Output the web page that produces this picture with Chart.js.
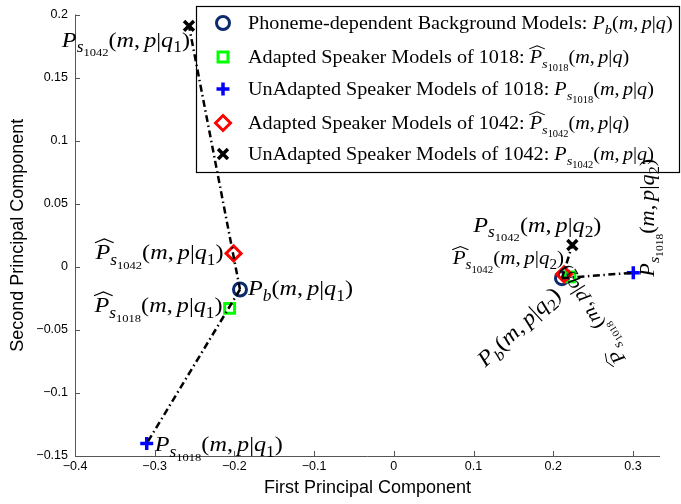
<!DOCTYPE html>
<html><head><meta charset="utf-8">
<script src="https://cdn.jsdelivr.net/npm/chart.js@4.4.0/dist/chart.umd.min.js"></script>
<style>html,body{margin:0;padding:0;background:#fff}#wrap{width:681px;height:504px}</style>
</head><body><div id="wrap"><canvas id="c" width="681" height="504"></canvas></div>
<script>
// ---- data ----
const groups = ['q1', 'q2'];
const bgX = [-0.193, 0.211],   bgY = [-0.018, -0.009];     // Phoneme-dependent background models
const ad1018X = [-0.206, 0.221], ad1018Y = [-0.033, -0.008]; // adapted 1018
const un1018X = [-0.310, 0.3005], un1018Y = [-0.140, -0.0047]; // unadapted 1018
const ad1042X = [-0.201, 0.2136], ad1042Y = [0.0106, -0.006]; // adapted 1042
const un1042X = [-0.257, 0.224], un1042Y = [0.191, 0.0173];  // unadapted 1042
const xTicks = [-0.4, -0.3, -0.2, -0.1, 0, 0.1, 0.2, 0.3];
const yTicks = [-0.15, -0.1, -0.05, 0, 0.05, 0.1, 0.15, 0.2];
const legendLabels = [
  'Phoneme-dependent Background Models: $P_{b}(m,p|q)$',
  'Adapted Speaker Models of 1018: $\\hat{P}_{s_{1018}}(m,p|q)$',
  'UnAdapted Speaker Models of 1018: $P_{s_{1018}}(m,p|q)$',
  'Adapted Speaker Models of 1042: $\\hat{P}_{s_{1042}}(m,p|q)$',
  'UnAdapted Speaker Models of 1042: $P_{s_{1042}}(m,p|q)$'
];
const xTitle = 'First Principal Component';
const yTitle = 'Second Principal Component';

// ---- styles ----
const sets = {
  bg:     {x: bgX, y: bgY, style: 'circle', color: '#0c2a6c', r: 6.5, w: 3},
  ad1018: {x: ad1018X, y: ad1018Y, style: 'rect', color: '#00ff00', r: 7, w: 3},
  un1018: {x: un1018X, y: un1018Y, style: 'cross', color: '#0000ff', r: 6.5, w: 3.5},
  ad1042: {x: ad1042X, y: ad1042Y, style: 'rectRot', color: '#ff0000', r: 7.5, w: 3},
  un1042: {x: un1042X, y: un1042Y, style: 'crossRot', color: '#000000', r: 7, w: 3.5}
};
const setOrder = ['bg', 'ad1018', 'un1018', 'ad1042', 'un1042'];

const annotations = [
  {set: 'un1042', g: 0, text: '$P_{s_{1042}}(m,p|q_{1})$', dx: 1, dy: 21, align: 'right'},
  {set: 'ad1042', g: 0, text: '$\\hat{P}_{s_{1042}}(m,p|q_{1})$', dx: -10, dy: 6, align: 'right'},
  {set: 'bg', g: 0, text: '$P_{b}(m,p|q_{1})$', dx: 8, dy: 6, align: 'left'},
  {set: 'ad1018', g: 0, text: '$\\hat{P}_{s_{1018}}(m,p|q_{1})$', dx: -7, dy: 4, align: 'right'},
  {set: 'un1018', g: 0, text: '$P_{s_{1018}}(m,p|q_{1})$', dx: 8, dy: 8, align: 'left'},
  {set: 'un1042', g: 1, text: '$P_{s_{1042}}(m,p|q_{2})$', dx: -35, dy: -13, align: 'center'},
  {set: 'ad1042', g: 1, text: '$\\hat{P}_{s_{1042}}(m,p|q_{2})$', dx: 0, dy: -10, align: 'right', scale: 0.87},
  {set: 'bg', g: 1, text: '$P_{b}(m,p|q_{2})$', dx: 0, dy: 18, align: 'right', rot: -43},
  {set: 'ad1018', g: 1, text: '$\\hat{P}_{s_{1018}}(m,p|q_{2})$', dx: 56, dy: 82, align: 'left', rot: -122, scale: 0.87},
  {set: 'un1018', g: 1, text: '$P_{s_{1018}}(m,p|q_{2})$', dx: 21, dy: 4, align: 'left', rot: -90, scale: 0.92}
];

// ---- rich text (tiny TeX subset) ----
function parseMath(s) {
  let i = 0;
  function isL(c) { return /[a-zA-Z]/.test(c); }
  function arg() {
    if (s[i] === '{') { i++; return group(); }
    const c = s[i++]; return [{t: 'ch', ch: c, it: isL(c)}];
  }
  function group() {
    const out = [];
    while (i < s.length) {
      const c = s[i];
      if (c === '}') { i++; return out; }
      if (c === '\\') {
        let j = i + 1; while (j < s.length && isL(s[j])) j++;
        const cmd = s.slice(i + 1, j); i = j;
        if (cmd === 'hat') out.push({t: 'hat', c: arg()});
        continue;
      }
      if (c === '_') { i++; out.push({t: 'sub', c: arg()}); continue; }
      if (c === '{') { i++; out.push({t: 'grp', c: group()}); continue; }
      if (c === ' ') { i++; continue; }
      i++;
      out.push({t: 'ch', ch: c, it: isL(c)});
      if (c === ',') out.push({t: 'sp', w: 0.17});
    }
    return out;
  }
  return group();
}
function parseRich(str) {
  const out = [];
  str.split('$').forEach((p, k) => {
    if (k % 2 === 0) { if (p) out.push({t: 'txt', s: p}); }
    else out.push(...parseMath(p));
  });
  return out;
}
const SERIF = '"Liberation Serif", "Times New Roman", serif';
function rend(ctx, nodes, x, y, size, draw) {
  let w = 0;
  for (const n of nodes) {
    if (n.t === 'ch' || n.t === 'txt') {
      const s = n.t === 'txt' ? n.s : n.ch;
      ctx.font = (n.it ? 'italic ' : '') + size + 'px ' + SERIF;
      const m = ctx.measureText(s).width;
      if (draw) ctx.fillText(s, x + w, y);
      w += m;
    } else if (n.t === 'sp') {
      w += n.w * size;
    } else if (n.t === 'grp') {
      w += rend(ctx, n.c, x + w, y, size, draw);
    } else if (n.t === 'sub') {
      w += rend(ctx, n.c, x + w, y + size * 0.25, size * 0.72, draw);
    } else if (n.t === 'hat') {
      const cw = rend(ctx, n.c, x + w, y, size, draw);
      if (draw) {
        const x0 = x + w - size * 0.02, x1 = x + w + cw + size * 0.14;
        const yb = y - size * 0.76, ya = y - size * 0.93;
        ctx.beginPath();
        ctx.moveTo(x0, yb); ctx.lineTo((x0 + x1) / 2, ya); ctx.lineTo(x1, yb);
        ctx.lineWidth = size * 0.05; ctx.strokeStyle = '#000'; ctx.stroke();
      }
      w += cw;
    }
  }
  return w;
}
function drawRich(ctx, str, x, y, o) {
  const size = o.size, sx = o.sx || 1;
  ctx.save();
  ctx.translate(x, y);
  ctx.rotate((o.rot || 0) * Math.PI / 180);
  ctx.scale(sx, 1);
  ctx.textAlign = 'left'; ctx.textBaseline = 'alphabetic'; ctx.fillStyle = '#000';
  const nodes = parseRich(str);
  const w = rend(ctx, nodes, 0, 0, size, false);
  const x0 = o.align === 'right' ? -w : o.align === 'center' ? -w / 2 : 0;
  rend(ctx, nodes, x0, 0, size, true);
  ctx.restore();
}

// ---- marker drawing for legend ----
function drawMarker(ctx, key, x, y) {
  const s = sets[key];
  ctx.save();
  ctx.strokeStyle = s.color; ctx.lineWidth = s.w; ctx.beginPath();
  const r = s.r;
  if (s.style === 'circle') { ctx.arc(x, y, r, 0, Math.PI * 2); }
  else if (s.style === 'rect') { const h = r * Math.SQRT1_2; ctx.rect(x - h, y - h, 2 * h, 2 * h); }
  else if (s.style === 'cross') { ctx.moveTo(x - r, y); ctx.lineTo(x + r, y); ctx.moveTo(x, y - r); ctx.lineTo(x, y + r); }
  else if (s.style === 'rectRot') { ctx.moveTo(x - r, y); ctx.lineTo(x, y - r); ctx.lineTo(x + r, y); ctx.lineTo(x, y + r); ctx.closePath(); }
  else if (s.style === 'crossRot') { const h = r * Math.SQRT1_2; ctx.moveTo(x - h, y - h); ctx.lineTo(x + h, y + h); ctx.moveTo(x + h, y - h); ctx.lineTo(x - h, y + h); }
  ctx.stroke();
  ctx.restore();
}

const fmt = v => { const a = parseFloat(Math.abs(v).toFixed(2)); return (v < 0 ? '\u2212' : '') + a; };

const layoutPlugin = {
  id: 'decor',
  beforeDatasetsDraw(chart) {
    const ctx = chart.ctx, xs = chart.scales.x, ys = chart.scales.y, a = chart.chartArea;
    // axes lines + inward ticks
    ctx.save();
    ctx.strokeStyle = '#555'; ctx.lineWidth = 1;
    ctx.beginPath();
    ctx.moveTo(a.left + 0.5, a.top); ctx.lineTo(a.left + 0.5, a.bottom + 0.5); ctx.lineTo(a.right, a.bottom + 0.5);
    xTicks.forEach(v => { const p = Math.round(xs.getPixelForValue(v)) + 0.5; ctx.moveTo(p, a.bottom); ctx.lineTo(p, a.bottom - 5); });
    yTicks.forEach(v => { const p = Math.round(ys.getPixelForValue(v)) + 0.5; ctx.moveTo(a.left, p); ctx.lineTo(a.left + 5, p); });
    ctx.stroke();
    // legend box
    const L = {x: 196, y: 6, w: 484, h: 166, rows: [23, 57, 89, 123, 154]};
    ctx.fillStyle = '#fff'; ctx.fillRect(L.x, L.y, L.w, L.h);
    ctx.strokeStyle = '#000'; ctx.lineWidth = 1.2; ctx.strokeRect(L.x + 0.5, L.y + 0.5, L.w - 1, L.h);
    setOrder.forEach((k, i) => {
      drawMarker(ctx, k, 223, L.rows[i]);
      drawRich(ctx, legendLabels[i], 248, L.rows[i] + 6, {size: 18.5, sx: 1.09, align: 'left'});
    });
    ctx.restore();
  },
  afterDatasetsDraw(chart) {
    const ctx = chart.ctx, xs = chart.scales.x, ys = chart.scales.y;
    annotations.forEach(an => {
      const s = sets[an.set];
      const px = xs.getPixelForValue(s.x[an.g]), py = ys.getPixelForValue(s.y[an.g]);
      drawRich(ctx, an.text, px + an.dx, py + an.dy, {size: 22 * (an.scale || 1), sx: 1.1, align: an.align, rot: an.rot || 0});
    });
  }
};

function pts(xs, ys) { return xs.map((x, i) => ({x, y: ys[i]})); }
const datasets = [];
setOrder.forEach((k, i) => {
  const s = sets[k];
  datasets.push({
    label: k, data: pts(s.x, s.y), showLine: false, pointStyle: s.style,
    pointRadius: s.r, pointBorderWidth: s.w, pointBorderColor: s.color,
    pointBackgroundColor: 'rgba(0,0,0,0)', order: 10 - i, clip: false
  });
});
groups.forEach((g, gi) => {
  ['un1042', 'un1018'].forEach(k => {
    datasets.push({
      label: 'link', data: [{x: bgX[gi], y: bgY[gi]}, {x: sets[k].x[gi], y: sets[k].y[gi]}],
      showLine: true, borderColor: '#000', borderWidth: 2.5, borderDash: [7, 3.5, 1.5, 3.5],
      pointRadius: 0, order: 1, clip: false
    });
  });
});

const tickFont = {family: '"Liberation Sans", Arial, sans-serif', size: 12.5};
const titleFont = {family: '"Liberation Sans", Arial, sans-serif', size: 18};
new Chart(document.getElementById('c'), {
  type: 'scatter',
  data: {datasets},
  options: {
    responsive: false, devicePixelRatio: 1, animation: false,
    layout: {padding: {left: 0, right: 21, top: 6, bottom: 0}},
    plugins: {legend: {display: false}, tooltip: {enabled: false}},
    scales: {
      x: {
        type: 'linear', min: -0.4, max: 0.334,
        afterBuildTicks: s => { s.ticks = xTicks.map(v => ({value: v})); },
        afterFit: s => { s.height = 48; },
        ticks: {callback: fmt, font: tickFont, color: '#000', padding: 3, maxRotation: 0, autoSkip: false},
        grid: {display: false, drawTicks: false}, border: {display: false},
        title: {display: true, text: xTitle, color: '#000', font: titleFont, padding: {top: 0, bottom: 5}}
      },
      y: {
        type: 'linear', min: -0.15, max: 0.2,
        afterBuildTicks: s => { s.ticks = yTicks.map(v => ({value: v})); },
        afterFit: s => { s.width = 75; },
        ticks: {callback: fmt, font: tickFont, color: '#000', padding: 7, autoSkip: false},
        grid: {display: false, drawTicks: false}, border: {display: false},
        title: {display: true, text: yTitle, color: '#000', font: titleFont, padding: {top: 7, bottom: 0}}
      }
    }
  },
  plugins: [layoutPlugin]
});
</script>
</body></html>
